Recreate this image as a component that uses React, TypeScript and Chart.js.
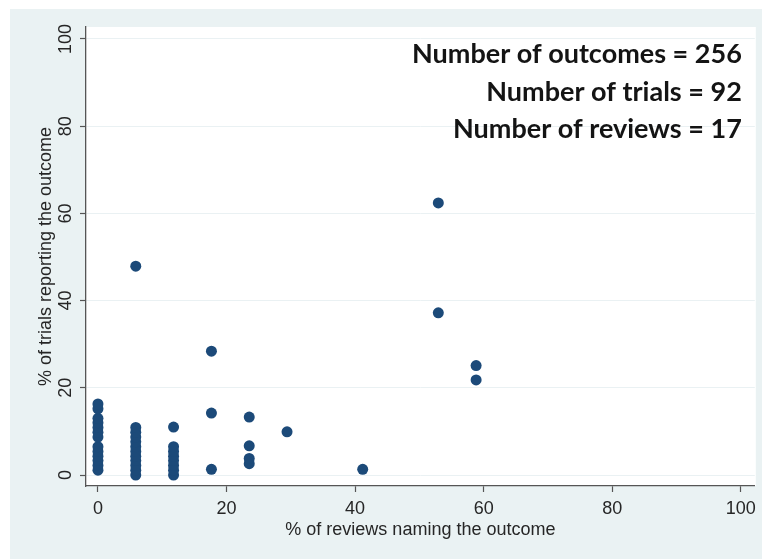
import React, { useEffect, useRef } from "react";
import { Chart, registerables } from "chart.js";

Chart.register(...registerables);

// % of trials reporting the outcome, one array per column of points
const col0Y = [1.1, 2.2, 3.3, 4.3, 5.4, 6.5, 8.7, 9.8, 10.9, 12.0, 13.0, 15.2, 16.3];
const col6Y = [0, 1.1, 2.2, 3.3, 4.3, 5.4, 6.5, 7.6, 8.7, 9.8, 10.9, 47.9];
const col12Y = [0, 1.1, 2.2, 3.3, 4.3, 5.4, 6.5, 11.0];
const col18Y = [1.3, 14.2, 28.4];
const col24Y = [2.6, 3.8, 6.7, 13.3];
const col29Y = [9.9];
const col41Y = [1.3];
const col53Y = [37.2, 62.4];
const col59Y = [21.8, 25.1];

// % of reviews naming the outcome for each column
const columnX = [0, 5.88, 11.76, 17.65, 23.53, 29.41, 41.18, 52.94, 58.82];
const columnY = [col0Y, col6Y, col12Y, col18Y, col24Y, col29Y, col41Y, col53Y, col59Y];

const tickValues = [0, 20, 40, 60, 80, 100];
const tickLabels = ["0", "20", "40", "60", "80", "100"];

const xTitle = "% of reviews naming the outcome";
const yTitle = "% of trials reporting the outcome";
const annotationLines = [
  "Number of outcomes = 256",
  "Number of trials = 92",
  "Number of reviews = 17",
];

const TEXT = "#262626";
const AXIS = "#555555";
const GRID = "#eaf1f3";
const BG = "#eaf2f3";
const DOT = "#1c4a79";

export default function App() {
  const ref = useRef<HTMLCanvasElement | null>(null);

  useEffect(() => {
    if (!ref.current) return;
    const points: { x: number; y: number }[] = [];
    columnX.forEach((x, i) => {
      columnY[i].forEach((y) => points.push({ x, y }));
    });

    const plotBg = {
      id: "plotBg",
      beforeDraw(chart: any) {
        const { ctx, chartArea } = chart;
        ctx.save();
        ctx.fillStyle = "#ffffff";
        ctx.fillRect(chartArea.left, chartArea.top, chartArea.right - chartArea.left + 1, chartArea.bottom - chartArea.top);
        ctx.restore();
      },
    };

    const yLabels = {
      id: "yLabels",
      afterDraw(chart: any) {
        const { ctx } = chart;
        const ys = chart.scales.y;
        ctx.save();
        ctx.fillStyle = TEXT;
        ctx.font = "18px 'Liberation Sans', Arial, sans-serif";
        ctx.textAlign = "center";
        ctx.textBaseline = "alphabetic";
        tickValues.forEach((v, i) => {
          const py = ys.getPixelForValue(v);
          ctx.save();
          ctx.translate(ys.right - 15, py);
          ctx.rotate(-Math.PI / 2);
          ctx.fillText(tickLabels[i], 0, 0);
          ctx.restore();
        });
        ctx.restore();
      },
    };

    const annot = {
      id: "annot",
      afterDraw(chart: any) {
        const { ctx, chartArea } = chart;
        ctx.save();
        ctx.fillStyle = "#141414";
        ctx.font = "bold 27px Lato, 'Open Sans', sans-serif";
        ctx.textAlign = "right";
        ctx.textBaseline = "alphabetic";
        const xr = chartArea.right - 13;
        annotationLines.forEach((t, i) => {
          ctx.fillText(t, xr, chartArea.top + 36 + i * 37.5);
        });
        ctx.restore();
      },
    };

    const chart = new Chart(ref.current, {
      type: "scatter",
      data: {
        datasets: [
          {
            data: points,
            backgroundColor: DOT,
            borderColor: DOT,
            borderWidth: 0,
            pointRadius: 5.5,
            pointHoverRadius: 5.5,
          },
        ],
      },
      options: {
        animation: false,
        responsive: false,
        events: [],
        layout: { padding: { top: 18, right: 6, left: 0, bottom: 0 } },
        plugins: {
          legend: { display: false },
          tooltip: { enabled: false },
        },
        scales: {
          x: {
            type: "linear",
            min: -1.86,
            max: 102.17,
            afterBuildTicks: (s: any) => {
              s.ticks = tickValues.map((v) => ({ value: v }));
            },
            afterFit: (s: any) => {
              s.height = 73;
            },
            ticks: {
              autoSkip: false,
              maxRotation: 0,
              minRotation: 0,
              padding: 6,
              color: TEXT,
              font: { family: "'Liberation Sans', Arial, sans-serif", size: 18 },
              callback: (v: any) => {
                const i = tickValues.indexOf(Number(v));
                return i >= 0 ? tickLabels[i] : "";
              },
            },
            grid: {
              drawOnChartArea: false,
              drawTicks: true,
              tickLength: 6,
              tickColor: AXIS,
              tickWidth: 1.2,
            },
            border: { display: true, color: AXIS, width: 1.3 },
            title: {
              display: true,
              text: xTitle,
              color: TEXT,
              font: { family: "'Liberation Sans', Arial, sans-serif", size: 18 },
              padding: { top: 0, bottom: 18 },
            },
          },
          y: {
            type: "linear",
            min: -2.52,
            max: 102.75,
            afterBuildTicks: (s: any) => {
              s.ticks = tickValues.map((v) => ({ value: v }));
            },
            afterFit: (s: any) => {
              s.width = 76;
            },
            ticks: { display: false },
            grid: {
              drawOnChartArea: true,
              color: GRID,
              lineWidth: 1,
              drawTicks: true,
              tickLength: 6,
              tickColor: AXIS,
              tickWidth: 1.2,
            },
            border: { display: true, color: AXIS, width: 1.3 },
            title: {
              display: true,
              text: yTitle,
              color: TEXT,
              font: { family: "'Liberation Sans', Arial, sans-serif", size: 18 },
              padding: { top: 25, bottom: 0 },
            },
          },
        },
      },
      plugins: [plotBg, yLabels, annot],
    });
    return () => chart.destroy();
  }, []);

  return (
    <div
      style={{
        position: "fixed",
        left: 10,
        top: 9,
        width: 752,
        height: 550,
        background: BG,
      }}
    >
      <canvas ref={ref} width={752} height={550} style={{ display: "block", width: 752, height: 550 }} />
    </div>
  );
}
